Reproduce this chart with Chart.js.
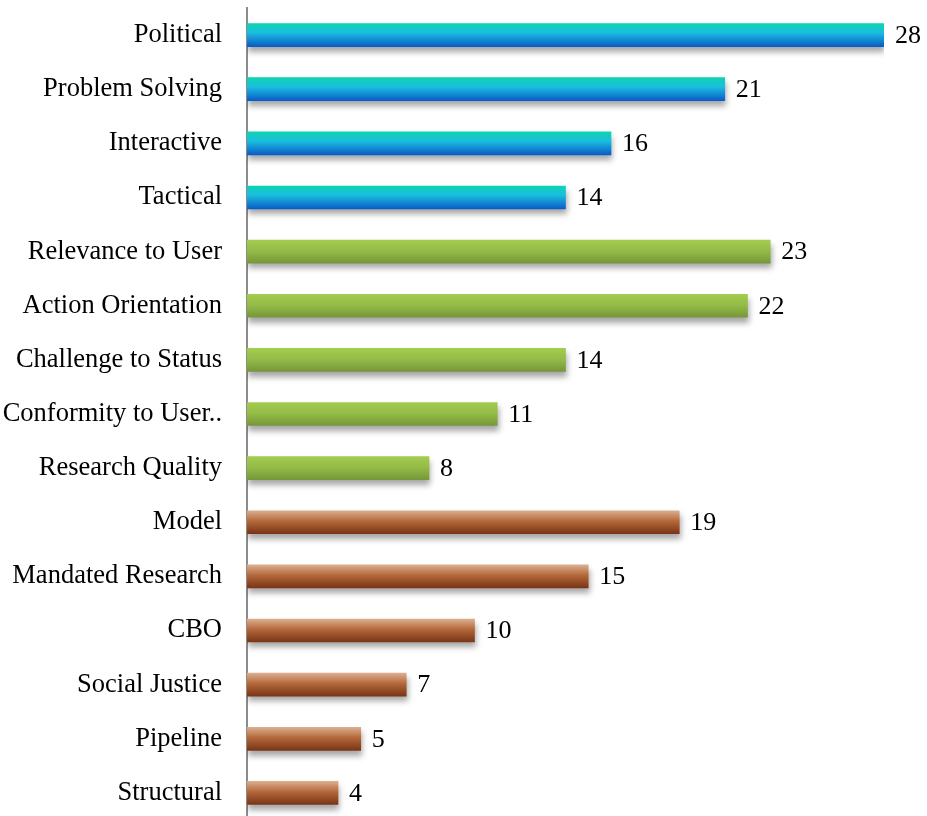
<!DOCTYPE html>
<html>
<head>
<meta charset="utf-8">
<script src="https://cdn.jsdelivr.net/npm/chart.js@4"></script>
<style>
  html, body { margin: 0; padding: 0; background: #fff; overflow: hidden; }
</style>
</head>
<body>
<canvas id="barChart" width="927" height="821"></canvas>
<script>
const categories = ['Political', 'Problem Solving', 'Interactive', 'Tactical',
  'Relevance to User', 'Action Orientation', 'Challenge to Status', 'Conformity to User..',
  'Research Quality', 'Model', 'Mandated Research', 'CBO', 'Social Justice', 'Pipeline', 'Structural'];
const values = [28, 21, 16, 14, 23, 22, 14, 11, 8, 19, 15, 10, 7, 5, 4];
const groups = ['blue', 'blue', 'blue', 'blue', 'green', 'green', 'green', 'green', 'green',
  'brown', 'brown', 'brown', 'brown', 'brown', 'brown'];

const gradients = {
  blue: [[0, '#0dd4b0'], [0.4, '#1bbde0'], [1, '#0a5cc6']],
  green: [[0, '#a4cc50'], [0.5, '#92ba46'], [1, '#76973a']],
  brown: [[0, '#dbae8e'], [0.45, '#b4683a'], [1, '#7a3516']]
};
const barSize = 23;

function barFill(ctx) {
  const chart = ctx.chart;
  const y = chart.scales.y;
  const stops = gradients[groups[ctx.dataIndex]];
  if (!y || !chart.chartArea) return stops[1][1];
  const yc = y.getPixelForValue(ctx.dataIndex);
  const g = chart.ctx.createLinearGradient(0, yc - barSize / 2, 0, yc + barSize / 2);
  stops.forEach(s => g.addColorStop(s[0], s[1]));
  return g;
}

// soft drop shadow under the bars, then the value labels
const shadowPlugin = {
  id: 'barShadow',
  beforeDatasetsDraw(chart) {
    const c = chart.ctx;
    c.save();
    c.shadowColor = 'rgba(0,0,0,0.35)';
    c.shadowBlur = 6;
    c.shadowOffsetX = 1;
    c.shadowOffsetY = 5;
  },
  afterDatasetsDraw(chart) {
    chart.ctx.restore();
    const c = chart.ctx;
    const meta = chart.getDatasetMeta(0);
    c.save();
    c.font = '26px "Liberation Serif", "Times New Roman", serif';
    c.fillStyle = '#000';
    c.textAlign = 'left';
    c.textBaseline = 'middle';
    meta.data.forEach((bar, i) => {
      c.fillText(values[i], bar.x + 11, bar.y + 1);
    });
    c.restore();
  }
};

new Chart(document.getElementById('barChart'), {
  type: 'bar',
  data: {
    labels: categories,
    datasets: [{
      data: values,
      backgroundColor: barFill,
      borderWidth: 0,
      barThickness: barSize
    }]
  },
  options: {
    indexAxis: 'y',
    responsive: false,
    animation: false,
    layout: { padding: { top: 8, bottom: 1, right: 43, left: 0 } },
    plugins: { legend: { display: false }, tooltip: { enabled: false } },
    scales: {
      x: { display: false, min: 0, max: 28 },
      y: {
        grid: { display: false, drawTicks: false },
        border: { display: true, color: '#8c8c8c', width: 2 },
        ticks: {
          color: '#000',
          padding: 25,
          font: { family: '"Liberation Serif", "Times New Roman", serif', size: 26.5 }
        },
        afterFit(scale) {
          scale.width = 247;
          scale.paddingTop = 0;
          scale.paddingBottom = 0;
        }
      }
    }
  },
  plugins: [shadowPlugin]
});
</script>
</body>
</html>
